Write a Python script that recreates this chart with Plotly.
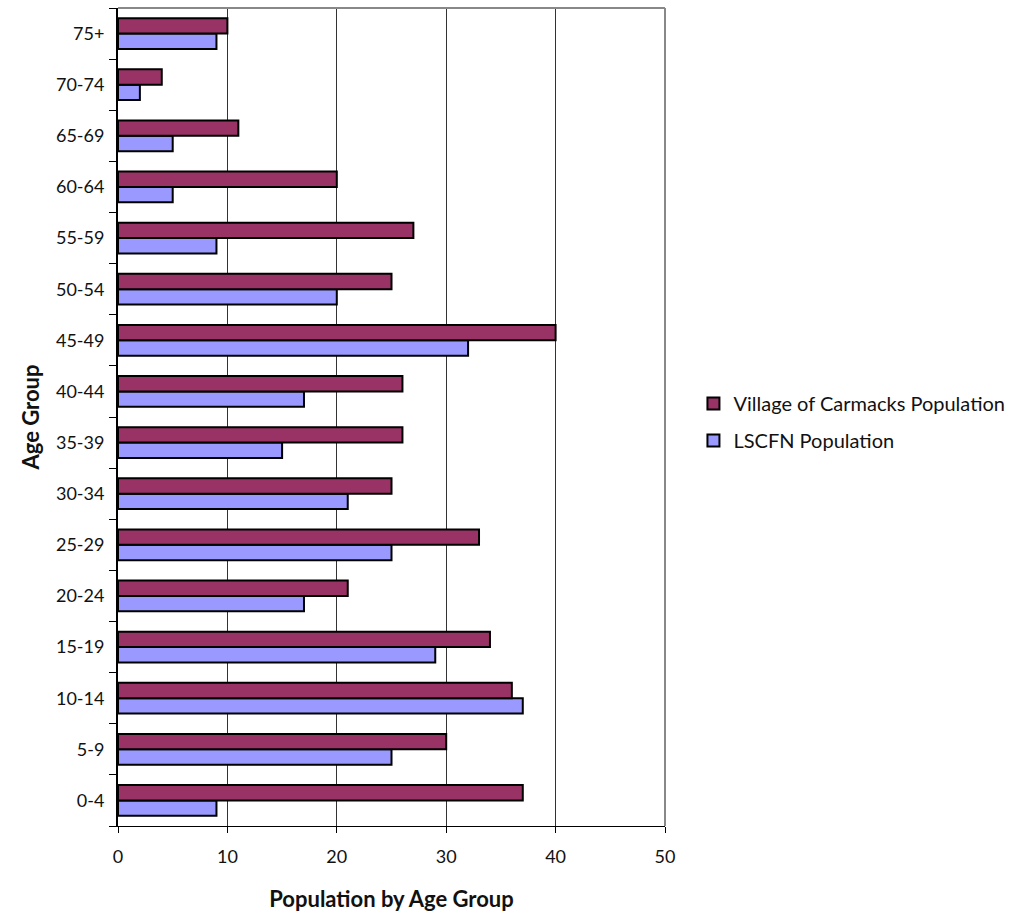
import plotly.graph_objects as go

age_groups = ["0-4", "5-9", "10-14", "15-19", "20-24", "25-29", "30-34", "35-39",
              "40-44", "45-49", "50-54", "55-59", "60-64", "65-69", "70-74", "75+"]
carmacks = [37, 30, 36, 34, 21, 33, 25, 26, 26, 40, 25, 27, 20, 11, 4, 10]
lscfn = [9, 25, 37, 29, 17, 25, 21, 15, 17, 32, 20, 9, 5, 5, 2, 9]

FONT = "Lato, 'Open Sans', sans-serif"

fig = go.Figure()
fig.add_trace(go.Bar(
    y=age_groups, x=lscfn, orientation="h", name="LSCFN Population",
    marker=dict(color="#9999FF", line=dict(color="black", width=2)),
    legendrank=2, legendgroup="lscfn",
))
fig.add_trace(go.Bar(
    y=age_groups, x=carmacks, orientation="h", name="Village of Carmacks Population",
    marker=dict(color="#993366", line=dict(color="black", width=2)),
    legendrank=1, legendgroup="carmacks",
))

fig.update_layout(
    width=1021, height=917,
    margin=dict(l=118, r=356, t=8, b=91),
    paper_bgcolor="white", plot_bgcolor="white",
    barmode="group", bargap=0.4, bargroupgap=0,
    font=dict(family=FONT, size=18, color="#111111"),
    legend=dict(x=1.052, y=0.494, xanchor="left", yanchor="middle",
                font=dict(size=20), tracegroupgap=8, itemwidth=30),
    showlegend=True,
)
fig.update_xaxes(
    range=[0, 50], dtick=10, showgrid=True, gridcolor="#333333", gridwidth=1,
    zeroline=False, showline=True, linecolor="black", linewidth=1, mirror=False,
    ticks="outside", ticklen=6, tickcolor="black", ticklabelstandoff=8,
    title=dict(text="<b>Population by Age Group</b>", font=dict(size=22), standoff=26),
)
fig.update_yaxes(
    showgrid=False, showline=True, linecolor="black", linewidth=2,
    ticks="outside", ticklen=7, tickcolor="black", tickson="boundaries",
    ticklabelstandoff=8,
    title=dict(text="<b>Age Group</b>", font=dict(size=22), standoff=10),
)
# gray frame on the top and right of the plot area
fig.add_shape(type="line", xref="paper", yref="paper", x0=0, x1=1, y0=1, y1=1,
              line=dict(color="#888888", width=2))
fig.add_shape(type="line", xref="paper", yref="paper", x0=1, x1=1, y0=0, y1=1,
              line=dict(color="#888888", width=2))

fig.write_html("out.html")
